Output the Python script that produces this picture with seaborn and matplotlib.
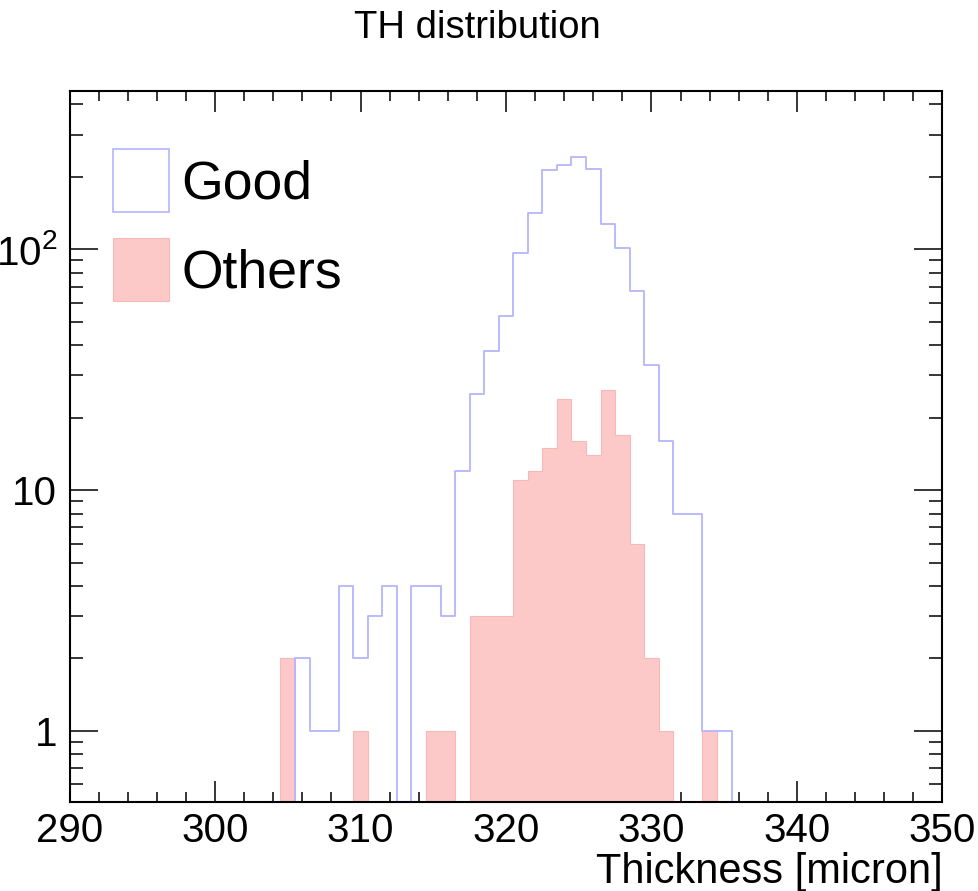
import numpy as np
import pandas as pd
import matplotlib
matplotlib.use("Agg")
import matplotlib.pyplot as plt
import seaborn as sns
from matplotlib.patches import Patch
from matplotlib.ticker import FixedLocator, MultipleLocator, LogLocator, FixedFormatter, NullFormatter

# ---- data (bin centres in micron, counts per 1-micron bin) ----
good_thickness = [306, 307, 308, 309, 310, 311, 312, 313, 314, 315, 316, 317, 318, 319, 320,
                  321, 322, 323, 324, 325, 326, 327, 328, 329, 330, 331, 332, 333, 334, 335]
good_counts = [2, 1, 1, 4, 2, 3, 4, 0, 4, 4, 3, 12, 25, 38, 53,
               97, 142, 214, 224, 242, 216, 128, 101, 67, 33, 16, 8, 8, 1, 1]

others_thickness = [305, 310, 315, 316, 318, 319, 320, 321, 322, 323, 324, 325, 326, 327,
                    328, 329, 330, 331, 334]
others_counts = [2, 1, 1, 1, 3, 3, 3, 11, 12, 15, 24, 16, 14, 26,
                 17, 6, 2, 1, 1]

x_ticks = [290, 300, 310, 320, 330, 340, 350]
y_ticks = [1, 10, 100]
y_tick_labels = ["1", "10", r"$\mathregular{10^{2}}$"]

title = "TH distribution"
x_label = "Thickness [micron]"
legend_labels = ["Good", "Others"]

good_line = "#b4b4ff"
others_fill = "#fdc8c8"
others_edge = "#f7b8b8"

# ---- style ----
sns.set_theme(style="white")
plt.rcParams["font.family"] = ["Liberation Sans", "DejaVu Sans"]
plt.rcParams["mathtext.fontset"] = "custom"
plt.rcParams["mathtext.rm"] = "Liberation Sans"
plt.rcParams["text.color"] = "black"
plt.rcParams["axes.labelcolor"] = "black"
plt.rcParams["xtick.color"] = "black"
plt.rcParams["ytick.color"] = "black"

fig = plt.figure(figsize=(9.79, 8.91), dpi=100)
ax = fig.add_axes([0.071, 0.0999, 0.8917, 0.798])

df_good = pd.DataFrame({"thickness": good_thickness, "count": good_counts})
df_oth = pd.DataFrame({"thickness": others_thickness, "count": others_counts})

sns.histplot(data=df_oth, x="thickness", weights="count", binwidth=1,
             binrange=(289.5, 350.5), element="step", fill=True,
             color=others_fill, alpha=1.0, edgecolor=others_edge, linewidth=0.8, ax=ax)
sns.histplot(data=df_good, x="thickness", weights="count", binwidth=1,
             binrange=(289.5, 350.5), element="step", fill=False,
             color=good_line, linewidth=1.3, ax=ax)

ax.set_yscale("log")
ax.set_xlim(290, 350)
ax.set_ylim(0.507, 455)

ax.xaxis.set_major_locator(FixedLocator(x_ticks))
ax.xaxis.set_minor_locator(MultipleLocator(2))
ax.yaxis.set_major_locator(FixedLocator(y_ticks))
ax.yaxis.set_major_formatter(FixedFormatter(y_tick_labels))
ax.yaxis.set_minor_locator(LogLocator(base=10, subs=np.arange(2, 10), numticks=20))
ax.yaxis.set_minor_formatter(NullFormatter())

ax.tick_params(axis="both", which="both", direction="in",
               top=True, right=True, bottom=True, left=True,
               color="black", labelcolor="black", width=1.1, labelsize=29)
ax.tick_params(axis="x", which="major", length=15, pad=7)
ax.tick_params(axis="x", which="minor", length=7.5)
ax.tick_params(axis="y", which="major", length=20, pad=9)
ax.tick_params(axis="y", which="minor", length=9.5)
for s in ax.spines.values():
    s.set_color("black")
    s.set_linewidth(1.5)

ax.set_ylabel("")
ax.set_xlabel(x_label, fontsize=30, color="black")
ax.xaxis.set_label_coords(1.0, -0.114)
ax.xaxis.label.set_ha("right")
ax.xaxis.label.set_va("baseline")

fig.text(477.5 / 979, 1 - 38 / 891, title, ha="center", va="baseline",
         fontsize=27.5, color="black")

handles = [Patch(facecolor="white", edgecolor=good_line, linewidth=1.2),
           Patch(facecolor=others_fill, edgecolor=others_edge, linewidth=0.8)]
leg = ax.legend(handles, legend_labels, loc="upper left", bbox_to_anchor=(0.0495, 0.918),
                frameon=False, fontsize=38.5, handlelength=1.06, handleheight=1.42,
                handletextpad=0.22, labelspacing=0.5, borderpad=0, borderaxespad=0)
for t in leg.get_texts():
    t.set_color("black")

fig.savefig("out.png", dpi=100)
